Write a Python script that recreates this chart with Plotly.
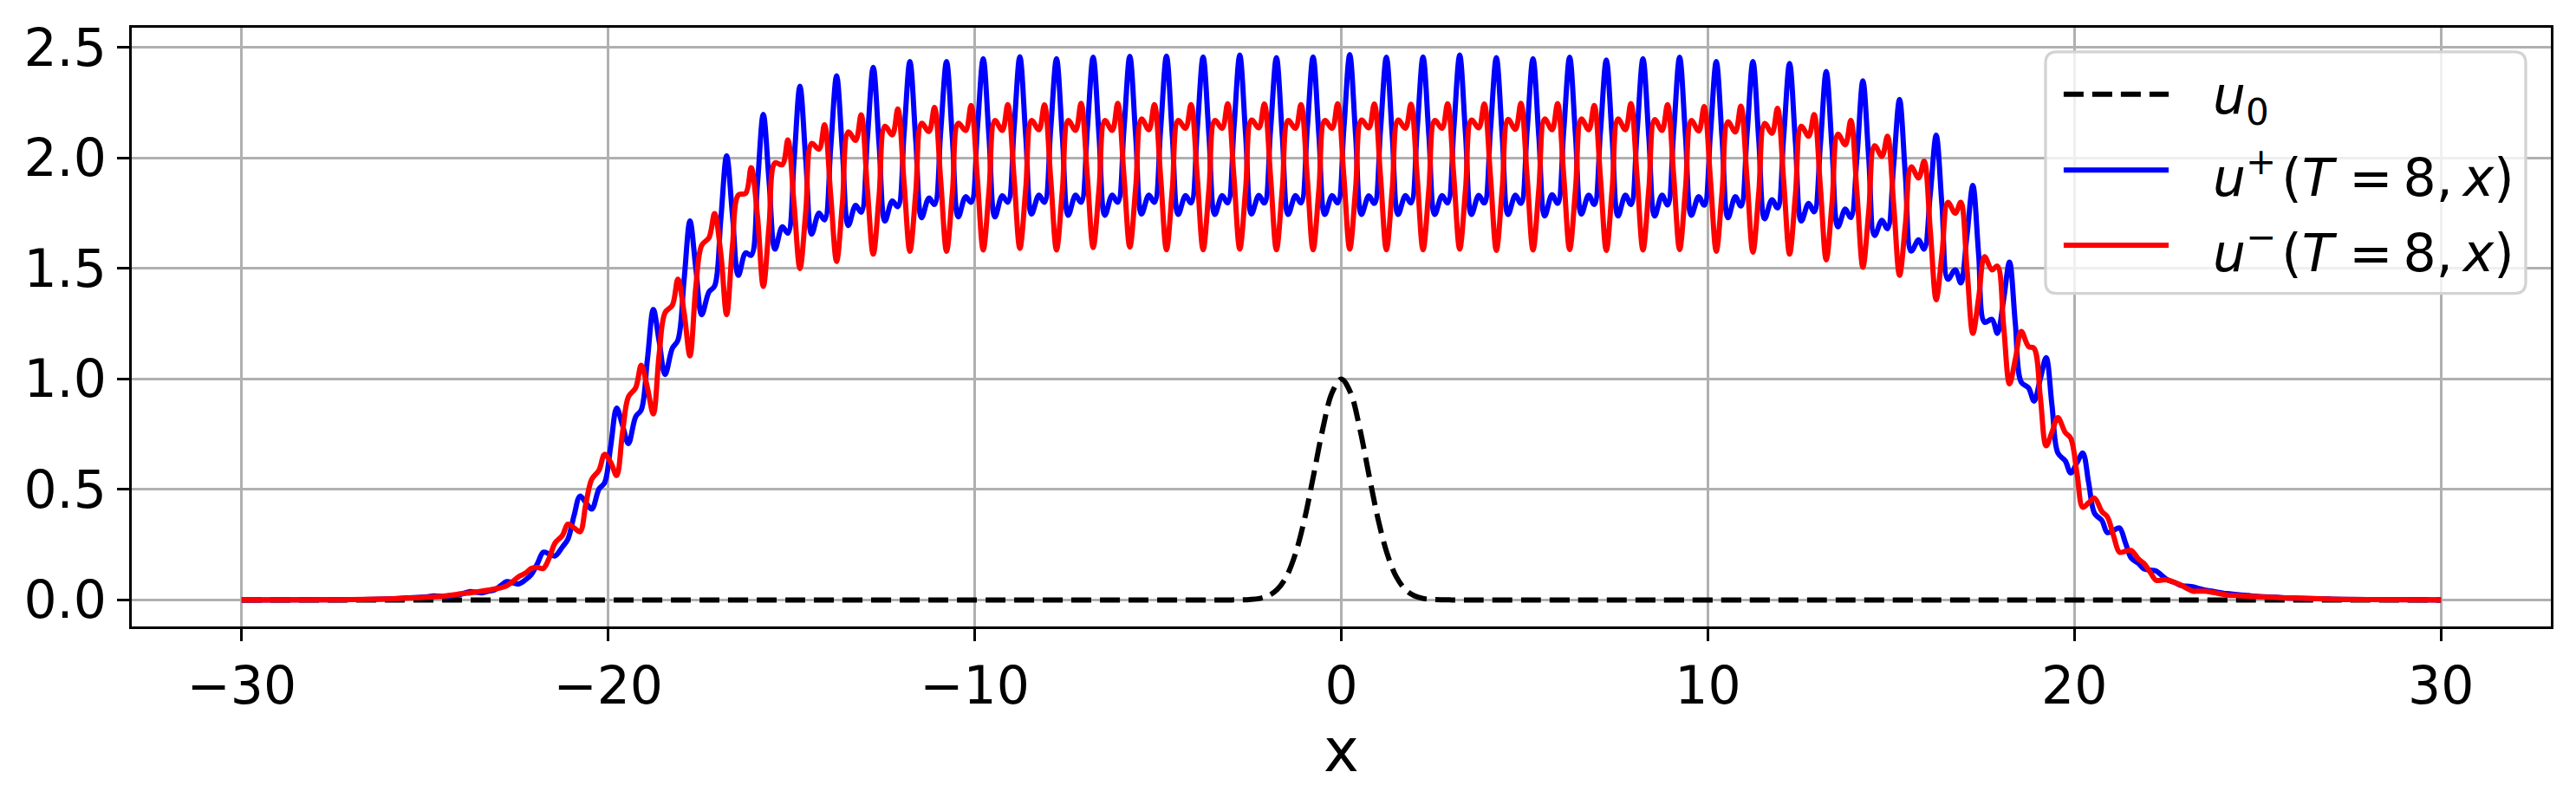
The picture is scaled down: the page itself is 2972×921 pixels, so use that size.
import plotly.graph_objects as go

# x samples: each row is one oscillation period, phases .07/.23/.39/.55/.75/.90
X_TAIL_L = [-30.0, -28.0, -27.0, -26.0, -25.5]
X_TAIL_R = [25.5, 26.0, 27.0, 28.0, 30.0]
X_MID = [
    [-24.93, -24.77, -24.61, -24.45, -24.25, -24.10],
    [-23.93, -23.77, -23.61, -23.45, -23.25, -23.10],
    [-22.93, -22.77, -22.61, -22.45, -22.25, -22.10],
    [-21.93, -21.77, -21.61, -21.45, -21.25, -21.10],
    [-20.93, -20.77, -20.61, -20.45, -20.25, -20.10],
    [-19.93, -19.77, -19.61, -19.45, -19.25, -19.10],
    [-18.93, -18.77, -18.61, -18.45, -18.25, -18.10],
    [-17.93, -17.77, -17.61, -17.45, -17.25, -17.10],
    [-16.93, -16.77, -16.61, -16.45, -16.25, -16.10],
    [-15.93, -15.77, -15.61, -15.45, -15.25, -15.10],
    [-14.93, -14.77, -14.61, -14.45, -14.25, -14.10],
    [-13.93, -13.77, -13.61, -13.45, -13.25, -13.10],
    [-12.93, -12.77, -12.61, -12.45, -12.25, -12.10],
    [-11.93, -11.77, -11.61, -11.45, -11.25, -11.10],
    [-10.93, -10.77, -10.61, -10.45, -10.25, -10.10],
    [-9.93, -9.77, -9.61, -9.45, -9.25, -9.10],
    [-8.93, -8.77, -8.61, -8.45, -8.25, -8.10],
    [-7.93, -7.77, -7.61, -7.45, -7.25, -7.10],
    [-6.93, -6.77, -6.61, -6.45, -6.25, -6.10],
    [-5.93, -5.77, -5.61, -5.45, -5.25, -5.10],
    [-4.93, -4.77, -4.61, -4.45, -4.25, -4.10],
    [-3.93, -3.77, -3.61, -3.45, -3.25, -3.10],
    [-2.93, -2.77, -2.61, -2.45, -2.25, -2.10],
    [-1.93, -1.77, -1.61, -1.45, -1.25, -1.10],
    [-0.93, -0.77, -0.61, -0.45, -0.25, -0.10],
    [0.07, 0.23, 0.39, 0.55, 0.75, 0.90],
    [1.07, 1.23, 1.39, 1.55, 1.75, 1.90],
    [2.07, 2.23, 2.39, 2.55, 2.75, 2.90],
    [3.07, 3.23, 3.39, 3.55, 3.75, 3.90],
    [4.07, 4.23, 4.39, 4.55, 4.75, 4.90],
    [5.07, 5.23, 5.39, 5.55, 5.75, 5.90],
    [6.07, 6.23, 6.39, 6.55, 6.75, 6.90],
    [7.07, 7.23, 7.39, 7.55, 7.75, 7.90],
    [8.07, 8.23, 8.39, 8.55, 8.75, 8.90],
    [9.07, 9.23, 9.39, 9.55, 9.75, 9.90],
    [10.07, 10.23, 10.39, 10.55, 10.75, 10.90],
    [11.07, 11.23, 11.39, 11.55, 11.75, 11.90],
    [12.07, 12.23, 12.39, 12.55, 12.75, 12.90],
    [13.07, 13.23, 13.39, 13.55, 13.75, 13.90],
    [14.07, 14.23, 14.39, 14.55, 14.75, 14.90],
    [15.07, 15.23, 15.39, 15.55, 15.75, 15.90],
    [16.07, 16.23, 16.39, 16.55, 16.75, 16.90],
    [17.07, 17.23, 17.39, 17.55, 17.75, 17.90],
    [18.07, 18.23, 18.39, 18.55, 18.75, 18.90],
    [19.07, 19.23, 19.39, 19.55, 19.75, 19.90],
    [20.07, 20.23, 20.39, 20.55, 20.75, 20.90],
    [21.07, 21.23, 21.39, 21.55, 21.75, 21.90],
    [22.07, 22.23, 22.39, 22.55, 22.75, 22.90],
    [23.07, 23.23, 23.39, 23.55, 23.75, 23.90],
    [24.07, 24.23, 24.39, 24.55, 24.75, 24.90],
]

# u+(T=8,x)
UP_TAIL_L = [0.0, 0.0005, 0.0015, 0.005, 0.009]
UP_TAIL_R = [0.012, 0.008, 0.004, 0.0015, 0.0]
UP_MID = [
    [0.014, 0.018, 0.017, 0.016, 0.020, 0.022],
    [0.030, 0.038, 0.035, 0.032, 0.040, 0.046],
    [0.065, 0.083, 0.078, 0.072, 0.092, 0.115],
    [0.165, 0.216, 0.208, 0.199, 0.240, 0.275],
    [0.384, 0.470, 0.440, 0.411, 0.503, 0.530],
    [0.700, 0.868, 0.790, 0.708, 0.830, 0.860],
    [1.090, 1.314, 1.170, 1.020, 1.140, 1.175],
    [1.450, 1.715, 1.500, 1.291, 1.395, 1.420],
    [1.720, 2.011, 1.740, 1.469, 1.571, 1.560],
    [1.880, 2.198, 1.890, 1.588, 1.689, 1.660],
    [1.990, 2.325, 1.990, 1.656, 1.751, 1.720],
    [2.050, 2.372, 2.030, 1.695, 1.786, 1.755],
    [2.090, 2.411, 2.060, 1.715, 1.806, 1.780],
    [2.110, 2.437, 2.080, 1.730, 1.819, 1.790],
    [2.120, 2.437, 2.085, 1.734, 1.825, 1.800],
    [2.130, 2.450, 2.090, 1.734, 1.829, 1.800],
    [2.130, 2.459, 2.100, 1.747, 1.832, 1.800],
    [2.130, 2.450, 2.095, 1.741, 1.832, 1.800],
    [2.130, 2.457, 2.100, 1.741, 1.832, 1.800],
    [2.130, 2.461, 2.100, 1.747, 1.832, 1.800],
    [2.130, 2.462, 2.100, 1.745, 1.830, 1.797],
    [2.130, 2.458, 2.100, 1.745, 1.830, 1.797],
    [2.135, 2.466, 2.105, 1.747, 1.831, 1.797],
    [2.130, 2.455, 2.100, 1.745, 1.830, 1.797],
    [2.130, 2.458, 2.100, 1.745, 1.830, 1.797],
    [2.135, 2.468, 2.105, 1.745, 1.829, 1.795],
    [2.130, 2.457, 2.100, 1.745, 1.830, 1.797],
    [2.130, 2.458, 2.100, 1.745, 1.830, 1.797],
    [2.135, 2.466, 2.105, 1.745, 1.831, 1.797],
    [2.130, 2.455, 2.100, 1.745, 1.832, 1.795],
    [2.125, 2.450, 2.095, 1.738, 1.834, 1.795],
    [2.130, 2.457, 2.100, 1.747, 1.832, 1.790],
    [2.120, 2.444, 2.090, 1.738, 1.832, 1.790],
    [2.120, 2.450, 2.095, 1.738, 1.832, 1.788],
    [2.125, 2.457, 2.100, 1.741, 1.825, 1.787],
    [2.110, 2.437, 2.085, 1.730, 1.825, 1.783],
    [2.110, 2.437, 2.080, 1.725, 1.812, 1.774],
    [2.100, 2.428, 2.070, 1.715, 1.795, 1.757],
    [2.060, 2.392, 2.040, 1.689, 1.769, 1.731],
    [2.010, 2.350, 2.000, 1.650, 1.718, 1.680],
    [1.970, 2.265, 1.920, 1.579, 1.630, 1.588],
    [1.840, 2.104, 1.780, 1.452, 1.494, 1.435],
    [1.650, 1.876, 1.560, 1.257, 1.270, 1.207],
    [1.360, 1.529, 1.250, 0.986, 0.960, 0.900],
    [1.000, 1.097, 0.880, 0.665, 0.630, 0.575],
    [0.620, 0.665, 0.530, 0.392, 0.360, 0.305],
    [0.315, 0.326, 0.260, 0.190, 0.165, 0.140],
    [0.135, 0.131, 0.110, 0.090, 0.078, 0.066],
    [0.062, 0.060, 0.052, 0.045, 0.040, 0.035],
    [0.030, 0.028, 0.025, 0.022, 0.020, 0.017],
]

# u-(T=8,x)
UM_TAIL_L = [0.0, 0.0005, 0.0015, 0.005, 0.008]
UM_TAIL_R = [0.011, 0.008, 0.004, 0.0015, 0.0]
UM_MID = [
    [0.012, 0.013, 0.015, 0.018, 0.022, 0.026],
    [0.030, 0.032, 0.036, 0.040, 0.045, 0.050],
    [0.055, 0.064, 0.083, 0.105, 0.122, 0.143],
    [0.147, 0.143, 0.190, 0.258, 0.292, 0.343],
    [0.326, 0.309, 0.436, 0.546, 0.588, 0.659],
    [0.622, 0.563, 0.758, 0.919, 0.961, 1.062],
    [0.960, 0.842, 1.113, 1.300, 1.334, 1.452],
    [1.300, 1.105, 1.418, 1.605, 1.640, 1.749],
    [1.570, 1.291, 1.605, 1.833, 1.840, 1.957],
    [1.740, 1.419, 1.700, 1.978, 1.970, 2.082],
    [1.790, 1.500, 1.760, 2.066, 2.040, 2.151],
    [1.830, 1.532, 1.800, 2.118, 2.080, 2.196],
    [1.860, 1.565, 1.830, 2.144, 2.105, 2.222],
    [1.890, 1.578, 1.845, 2.157, 2.120, 2.229],
    [1.900, 1.578, 1.845, 2.157, 2.125, 2.238],
    [1.910, 1.584, 1.855, 2.170, 2.125, 2.242],
    [1.915, 1.591, 1.860, 2.170, 2.128, 2.241],
    [1.910, 1.584, 1.855, 2.170, 2.125, 2.248],
    [1.920, 1.595, 1.860, 2.170, 2.125, 2.248],
    [1.920, 1.597, 1.865, 2.177, 2.128, 2.242],
    [1.915, 1.585, 1.860, 2.170, 2.135, 2.242],
    [1.915, 1.585, 1.860, 2.170, 2.135, 2.246],
    [1.915, 1.588, 1.860, 2.172, 2.137, 2.245],
    [1.915, 1.585, 1.860, 2.170, 2.135, 2.242],
    [1.915, 1.585, 1.860, 2.170, 2.135, 2.246],
    [1.915, 1.588, 1.860, 2.172, 2.137, 2.245],
    [1.915, 1.585, 1.860, 2.172, 2.135, 2.244],
    [1.915, 1.585, 1.860, 2.170, 2.135, 2.246],
    [1.915, 1.588, 1.860, 2.172, 2.137, 2.245],
    [1.915, 1.582, 1.860, 2.175, 2.130, 2.248],
    [1.915, 1.584, 1.860, 2.177, 2.128, 2.247],
    [1.915, 1.586, 1.860, 2.177, 2.128, 2.238],
    [1.910, 1.582, 1.860, 2.177, 2.128, 2.247],
    [1.915, 1.584, 1.860, 2.174, 2.125, 2.242],
    [1.915, 1.586, 1.860, 2.170, 2.122, 2.233],
    [1.905, 1.578, 1.850, 2.164, 2.118, 2.235],
    [1.905, 1.574, 1.845, 2.157, 2.112, 2.225],
    [1.895, 1.565, 1.835, 2.144, 2.099, 2.197],
    [1.870, 1.539, 1.800, 2.108, 2.060, 2.170],
    [1.840, 1.506, 1.760, 2.056, 2.008, 2.099],
    [1.790, 1.469, 1.700, 1.960, 1.910, 1.986],
    [1.670, 1.359, 1.570, 1.800, 1.750, 1.800],
    [1.500, 1.207, 1.370, 1.554, 1.494, 1.511],
    [1.240, 0.978, 1.090, 1.215, 1.147, 1.139],
    [0.920, 0.698, 0.760, 0.825, 0.758, 0.732],
    [0.575, 0.419, 0.440, 0.461, 0.400, 0.376],
    [0.290, 0.216, 0.220, 0.224, 0.185, 0.165],
    [0.125, 0.089, 0.090, 0.090, 0.078, 0.068],
    [0.052, 0.040, 0.040, 0.040, 0.035, 0.030],
    [0.025, 0.020, 0.020, 0.018, 0.016, 0.015],
]

# initial data u0
X0 = [-30.0, -3.5, -3.25, -3.0, -2.75, -2.5, -2.25, -2.0, -1.75, -1.5, -1.25, -1.0,
      -0.75, -0.5, -0.25, 0.0, 0.25, 0.5, 0.75, 1.0, 1.25, 1.5, 1.75, 2.0, 2.25,
      2.5, 2.75, 3.0, 3.25, 3.5, 30.0]
U0 = [0.0, 0.0, 0.0, 0.0001, 0.0005, 0.002, 0.006, 0.018, 0.047, 0.105, 0.210, 0.368,
      0.570, 0.779, 0.939, 1.0, 0.939, 0.779, 0.570, 0.368, 0.210, 0.105, 0.047, 0.018,
      0.006, 0.002, 0.0005, 0.0001, 0.0, 0.0, 0.0]

X_TICKS = [-30, -20, -10, 0, 10, 20, 30]
X_TICK_TEXT = ["\u221230", "\u221220", "\u221210", "0", "10", "20", "30"]
Y_TICKS = [0.0, 0.5, 1.0, 1.5, 2.0, 2.5]
Y_TICK_TEXT = ["0.0", "0.5", "1.0", "1.5", "2.0", "2.5"]


def flat(rows):
    return [v for r in rows for v in r]


x_all = X_TAIL_L + flat(X_MID) + X_TAIL_R
u_plus = UP_TAIL_L + flat(UP_MID) + UP_TAIL_R
u_minus = UM_TAIL_L + flat(UM_MID) + UM_TAIL_R

FONT = "DejaVu Sans"
LW = 6
DASH = "23px,10px"
HAIR, THIN = "\u200a", "\u2009"  # math-like spacing in the legend labels

fig = go.Figure()
fig.add_trace(go.Scatter(x=X0, y=U0, mode="lines", name="u0",
                         line=dict(color="black", width=LW, dash=DASH, shape="spline", smoothing=1.0)))
fig.add_trace(go.Scatter(x=x_all, y=u_plus, mode="lines", name="u+(T=8,x)",
                         line=dict(color="blue", width=LW, shape="spline", smoothing=1.0)))
fig.add_trace(go.Scatter(x=x_all, y=u_minus, mode="lines", name="u-(T=8,x)",
                         line=dict(color="red", width=LW, shape="spline", smoothing=1.0)))

axis_common = dict(
    showline=True, mirror=True, linecolor="black", linewidth=3.3,
    ticks="outside", ticklen=14, tickwidth=3.3, tickcolor="black",
    showgrid=True, gridcolor="#b0b0b0", gridwidth=3.3, zeroline=False,
    tickfont=dict(family=FONT, size=60, color="black"),
)

# the page body adds 8px around the figure, so the figure is 16px smaller
fig.update_layout(
    width=2956, height=905,
    margin=dict(l=144, r=21, t=21, b=190),
    paper_bgcolor="white", plot_bgcolor="white",
    showlegend=False,
    font=dict(family=FONT, color="black"),
    xaxis=dict(range=[-33, 33], tickvals=X_TICKS, ticktext=X_TICK_TEXT,
               title=dict(text="x", font=dict(family=FONT, size=69), standoff=0),
               **axis_common),
    yaxis=dict(range=[-0.12, 2.59], tickvals=Y_TICKS, ticktext=Y_TICK_TEXT, **axis_common),
)

# legend box (matplotlib-style, rounded corners), in paper coordinates
bx0, bx1, by0, by1 = 0.7911, 0.9896, 0.5562, 0.9597
rx, ry = 0.0047, 0.0187
box = (f"M{bx0+rx},{by1} L{bx1-rx},{by1} Q{bx1},{by1} {bx1},{by1-ry} "
       f"L{bx1},{by0+ry} Q{bx1},{by0} {bx1-rx},{by0} L{bx0+rx},{by0} "
       f"Q{bx0},{by0} {bx0},{by0+ry} L{bx0},{by1-ry} Q{bx0},{by1} {bx0+rx},{by1} Z")
fig.add_shape(type="path", path=box, xref="paper", yref="paper", layer="above",
              fillcolor="rgba(255,255,255,0.8)", line=dict(color="#d3d3d3", width=3.3))

hx0, hx1, tx = 0.7986, 0.8420, 0.8595
tail = f"(<i>T</i>{THIN}{HAIR}={THIN}8,{THIN}<i>x</i>)"
rows = [
    (0.8890, "black", DASH, "<i>u</i><sub>0</sub>", 0.880),
    (0.7622, "blue", "solid", f"<i>u</i><sup>+</sup>{HAIR}" + tail, 0.755),
    (0.6369, "red", "solid", f"<i>u</i><sup>\u2212</sup>{HAIR}" + tail, 0.630),
]
for hy, col, dash, label, ty in rows:
    fig.add_shape(type="line", xref="paper", yref="paper", layer="above",
                  x0=hx0, x1=hx1, y0=hy, y1=hy, line=dict(color=col, width=LW, dash=dash))
    fig.add_annotation(xref="paper", yref="paper", x=tx, y=ty, xanchor="left", yanchor="middle",
                       text=label, showarrow=False, font=dict(family=FONT, size=60, color="black"))

fig.write_html("out.html")
